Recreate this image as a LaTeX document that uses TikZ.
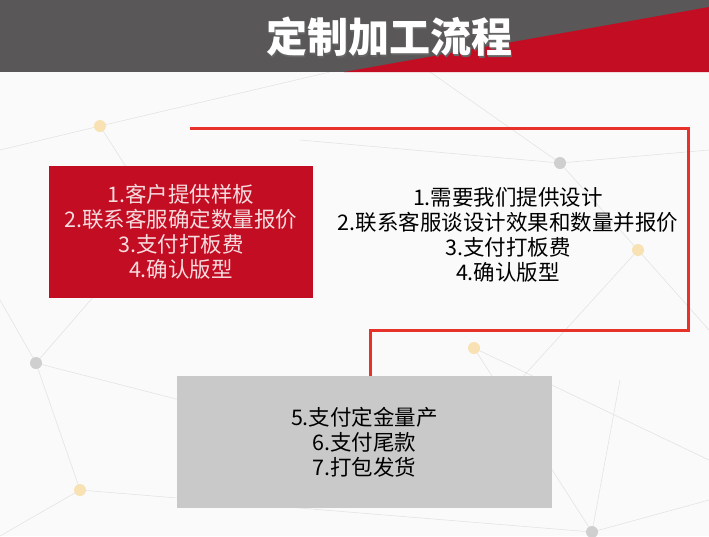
\documentclass[tikz,border=0pt]{standalone}
\usepackage{fontspec}
\newfontfamily\cjk{Noto Sans CJK SC}
\definecolor{headgray}{HTML}{595757}
\definecolor{boxred}{HTML}{C30D23}
\definecolor{linered}{HTML}{E63228}
\definecolor{boxgray}{HTML}{C9C9C9}
\definecolor{pinkwhite}{HTML}{F6DCDF}
\definecolor{webgray}{HTML}{E4E4E4}
\definecolor{dotgray}{HTML}{CFCFCF}
\definecolor{dotyellow}{HTML}{F8E2B4}
\tikzset{
  web/.style={draw=webgray, line width=.6pt},
  steptext/.style={font=\cjk\fontsize{21.5}{25}\selectfont, align=center, inner sep=0pt},
  stepbox/.style={steptext, minimum width=#1, minimum height=132, inner sep=0pt}
}
\begin{document}
\begin{tikzpicture}[x=1pt,y=-1pt]
\def\header{(0,0) rectangle (709,72)}
\def\wedge{(344,72) -- (709,7) -- (709,72) -- cycle}
\useasboundingbox (0,0) rectangle (709,536);
\fill[white!98!black] (0,0) rectangle (709,536);
% background web
\coordinate (d1) at (100,126);
\coordinate (d2) at (560,163);
\coordinate (d3) at (638,250);
\coordinate (d4) at (36,363);
\coordinate (d5) at (474,348);
\coordinate (d6) at (80,490);
\coordinate (d7) at (592,532);
\coordinate (e1) at (0,150);
\coordinate (e2) at (330,72);
\coordinate (e3) at (709,150);
\coordinate (e4) at (430,72);
\coordinate (e5) at (709,330);
\coordinate (e6) at (709,460);
\coordinate (e7) at (0,300);
\coordinate (e8) at (0,536);
\coordinate (e9) at (709,500);
\coordinate (e10) at (300,140);
\coordinate (e11) at (180,400);
\coordinate (e12) at (520,380);
\coordinate (e13) at (620,380);
\coordinate (e14) at (160,220);
\foreach \a/\b in {e1/d1,d1/e2,d1/e14,d2/e3,d2/e4,d2/d3,d3/e5,d3/e12,d5/e6,
                   d4/e7,d4/d6,d6/e8,d6/d7,d7/e9,d4/e11,d7/d5,d7/e13,e10/d2,e14/d4}
  \draw[web] (\a) -- (\b);
\foreach \d in {d2,d4,d7} \fill[dotgray] (\d) circle (6);
\foreach \d in {d1,d3,d5,d6} \fill[dotyellow] (\d) circle (6);
% header
\fill[headgray] \header;
\fill[boxred] \wedge;
\node[text=black!60, font=\cjk\bfseries\fontsize{41}{41}\selectfont] at (390.5,38.5) {定制加工流程};
\node[text=white, font=\cjk\bfseries\fontsize{41}{41}\selectfont] (title) at (389,37) {定制加工流程};
% steps
\node[stepbox=264, fill=boxred, text=pinkwhite] (sample) at (181,231.5)
  {1.客户提供样板\\2.联系客服确定数量报价\\3.支付打板费\\4.确认版型};
\node[steptext, text=black] (design) at (508,235)
  {1.需要我们提供设计\\2.联系客服谈设计效果和数量并报价\\3.支付打板费\\4.确认版型};
\node[stepbox=375, fill=boxgray, text=black] (produce) at (364.5,442)
  {5.支付定金量产\\6.支付尾款\\7.打包发货};
\coordinate (start) at (190,128);
\coordinate (turn) at (688,330);
\coordinate (end) at (370,376);
\draw[linered, line width=3pt] (start) -| (turn) -| (end);
\end{tikzpicture}
\end{document}
